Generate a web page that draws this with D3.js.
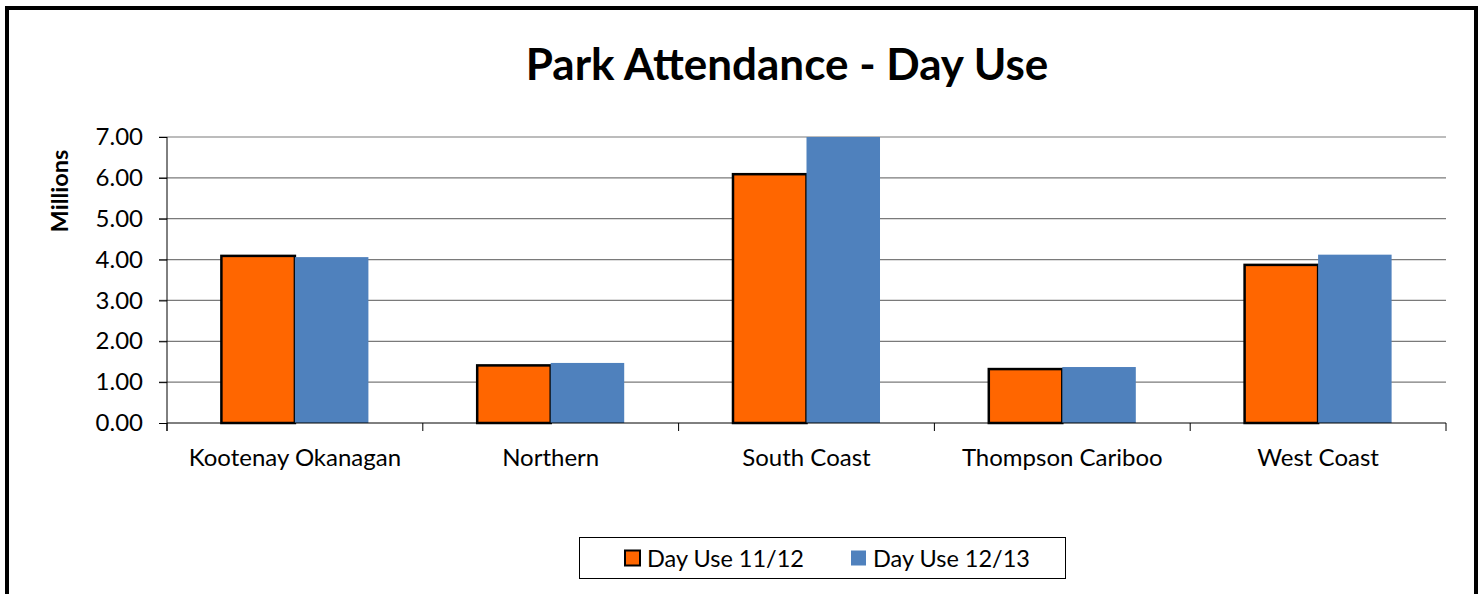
<!DOCTYPE html>
<html>
<head>
<meta charset="utf-8">
<script src="https://cdn.jsdelivr.net/npm/d3@7"></script>
<style>
  body { margin: 0; background: #fff; }
  text { font-family: Lato, "Open Sans", sans-serif; }
</style>
</head>
<body>
<svg id="mainsvg" width="1482" height="594"></svg>
<script>
const regions = ["Kootenay Okanagan", "Northern", "South Coast", "Thompson Cariboo", "West Coast"];
const seriesNames = ["Day Use 11/12", "Day Use 12/13"];
const dayUse1112 = [4.09, 1.41, 6.09, 1.32, 3.87];
const dayUse1213 = [4.06, 1.47, 7.00, 1.37, 4.12];
const yTicks = [0, 1, 2, 3, 4, 5, 6, 7];

const colors = ["#FF6600", "#4F81BD"];
const labelFont = "24px";
const svg = d3.select("#mainsvg");

// outer frame
svg.append("rect")
  .attr("x", 7).attr("y", 8)
  .attr("width", 1469).attr("height", 600)
  .attr("fill", "none").attr("stroke", "#000").attr("stroke-width", 4);

svg.append("text")
  .attr("x", 787).attr("y", 80)
  .attr("text-anchor", "middle")
  .style("font-size", "44px").style("font-weight", "bold")
  .text("Park Attendance - Day Use");

const plotL = 167, plotR = 1446, plotT = 137, plotB = 423;

const x = d3.scaleBand().domain(regions).range([plotL, plotR]).paddingInner(0).paddingOuter(0);
const x1 = d3.scaleBand().domain(seriesNames).range([0, x.bandwidth()]).paddingInner(0).paddingOuter(0.74);
const y = d3.scaleLinear().domain([0, 7]).range([plotB, plotT]);

const g = svg.append("g");

// grid lines
g.selectAll(".grid").data(yTicks.slice(1)).enter().append("line")
  .attr("x1", plotL - 8).attr("x2", plotR)
  .attr("y1", d => y(d)).attr("y2", d => y(d))
  .attr("stroke", "#7a7a7a").attr("stroke-width", 1.2);

// y axis
const yAxis = d3.axisLeft(y).tickValues(yTicks).tickFormat(d3.format(".2f")).tickSize(8).tickPadding(16);
const ya = g.append("g").attr("transform", `translate(${plotL},0)`).call(yAxis);
ya.select(".domain").attr("d", `M0,${plotT}V${plotB + 8}`).attr("stroke", "#000");
ya.selectAll(".tick line").attr("stroke", "#000");
ya.selectAll("text").style("font-size", labelFont).style("font-family", "Lato, 'Open Sans', sans-serif").attr("fill", "#000");

svg.append("text")
  .attr("transform", "translate(68,191) rotate(-90)")
  .attr("text-anchor", "middle")
  .style("font-size", "23.5px").style("font-weight", "bold")
  .text("Millions");

// bars
const data = regions.map((r, i) => ({ region: r, values: [dayUse1112[i], dayUse1213[i]] }));
const groups = g.selectAll(".grp").data(data).enter().append("g")
  .attr("transform", d => `translate(${x(d.region)},0)`);

groups.selectAll("rect").data(d => d.values.map((v, k) => ({ k, v }))).enter().append("rect")
  .attr("x", d => x1(seriesNames[d.k]))
  .attr("width", x1.bandwidth())
  .attr("y", d => y(d.v))
  .attr("height", d => plotB - y(d.v))
  .attr("fill", d => colors[d.k])
  .attr("stroke", d => d.k === 0 ? "#000" : "none")
  .attr("stroke-width", 2.5);

// x axis
const xAxis = d3.axisBottom(x).tickSize(0).tickPadding(24);
const xa = g.append("g").attr("transform", `translate(0,${plotB})`).call(xAxis);
xa.select(".domain").attr("d", `M${plotL},0H${plotR}`).attr("stroke", "#000");
xa.selectAll("text").attr("dy", "0.71em").attr("y", 26)
  .style("font-size", labelFont).style("font-family", "Lato, 'Open Sans', sans-serif").attr("fill", "#000");
// category separators
g.selectAll(".sep").data(regions.concat(["_end"])).enter().append("line")
  .attr("x1", (d, i) => plotL + i * x.bandwidth()).attr("x2", (d, i) => plotL + i * x.bandwidth())
  .attr("y1", plotB).attr("y2", plotB + 8)
  .attr("stroke", "#000");

// legend
const lg = svg.append("g");
lg.append("rect").attr("x", 579.5).attr("y", 537.5).attr("width", 486).attr("height", 41)
  .attr("fill", "#fff").attr("stroke", "#000").attr("stroke-width", 1);
const legendX = [625, 851];
seriesNames.forEach((s, i) => {
  lg.append("rect").attr("x", legendX[i]).attr("y", 550.5).attr("width", 15).attr("height", 15)
    .attr("fill", colors[i]).attr("stroke", i === 0 ? "#000" : "none").attr("stroke-width", 2);
  lg.append("text").attr("x", legendX[i] + 22).attr("y", 567)
    .style("font-size", "23.5px").text(s);
});
</script>
</body>
</html>
